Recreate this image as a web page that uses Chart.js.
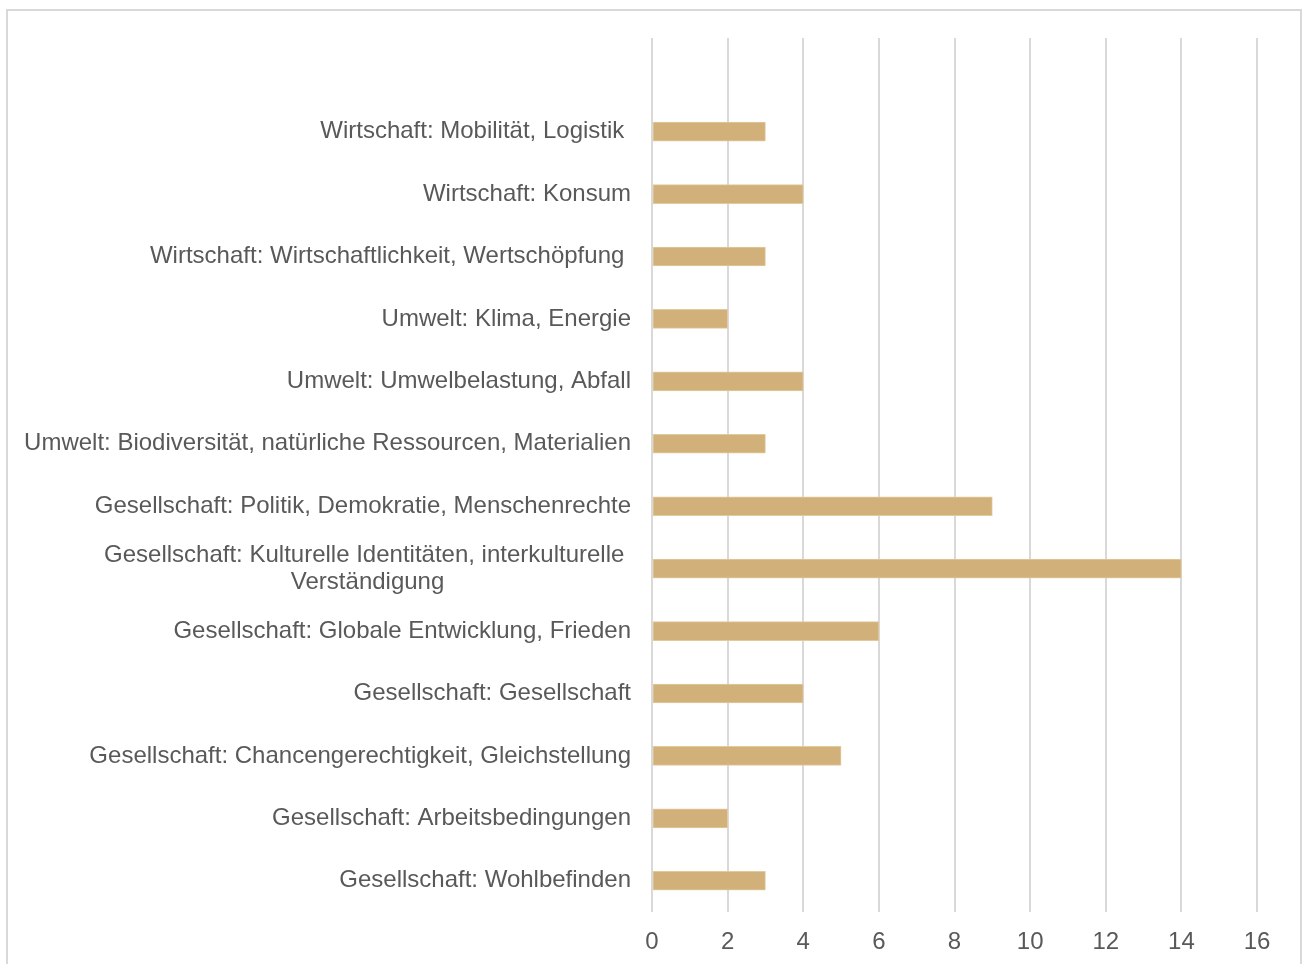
<!DOCTYPE html>
<html>
<head>
<meta charset="utf-8">
<script src="https://cdn.jsdelivr.net/npm/chart.js@4/dist/chart.umd.min.js"></script>
<style>
  html, body { margin: 0; padding: 0; background: #fff; }
  #wrap { position: relative; width: 1304px; height: 964px; }
  #frame { position: absolute; left: 6px; top: 9px; width: 1296px; height: 970px; border: 2px solid #d9d9d9; box-sizing: border-box; }
  canvas { position: absolute; left: 0; top: 0; }
</style>
</head>
<body>
<div id="wrap">
  <div id="frame"></div>
  <canvas id="barChart" width="1304" height="964"></canvas>
</div>
<script>
// categories top to bottom (first one is the empty slot above the bars)
var categories = [
    "",
    "Wirtschaft: Mobilität, Logistik ",
    "Wirtschaft: Konsum",
    "Wirtschaft: Wirtschaftlichkeit, Wertschöpfung ",
    "Umwelt: Klima, Energie",
    "Umwelt: Umwelbelastung, Abfall",
    "Umwelt: Biodiversität, natürliche Ressourcen, Materialien",
    "Gesellschaft: Politik, Demokratie, Menschenrechte",
    ["Gesellschaft: Kulturelle Identitäten, interkulturelle ", "Verständigung"],
    "Gesellschaft: Globale Entwicklung, Frieden",
    "Gesellschaft: Gesellschaft",
    "Gesellschaft: Chancengerechtigkeit, Gleichstellung",
    "Gesellschaft: Arbeitsbedingungen",
    "Gesellschaft: Wohlbefinden"
];
var counts = [null, 3, 4, 3, 2, 4, 3, 9, 14, 6, 4, 5, 2, 3];
var xTicks = [0, 2, 4, 6, 8, 10, 12, 14, 16];

var textColor = "#595959";
var labelFont = { family: "'Liberation Sans', Arial, sans-serif", size: 24, lineHeight: 1.13 };

// the second line of a wrapped label is centred under the first one
function padLine(lines) {
    var ctx = document.createElement("canvas").getContext("2d");
    ctx.font = labelFont.size + "px " + labelFont.family;
    var w0 = ctx.measureText(lines[0]).width;
    var sp = ctx.measureText(" ").width;
    var out = [lines[0]];
    for (var i = 1; i < lines.length; i++) {
        var w = ctx.measureText(lines[i]).width;
        var n = Math.round((w0 - w) / 2 / sp);
        out.push(lines[i] + " ".repeat(Math.max(0, n)));
    }
    return out;
}

function createChart() {
    var chart = document.getElementById("barChart");
    let myChart = new Chart(chart, {
        type: 'bar',
        data: {
            labels: categories,
            datasets: [{
                label: 'Anzahl',
                backgroundColor: "#D1B07A",
                borderColor: "#E2CA9F",
                borderWidth: 1,
                borderSkipped: false,
                barThickness: 19,
                data: counts
            }]
        },
        options: {
            indexAxis: 'y',
            responsive: false,
            animation: false,
            layout: { padding: { left: 0, right: 47, top: 38, bottom: 0 } },
            plugins: {
                legend: { display: false },
                tooltip: { enabled: false }
            },
            scales: {
                x: {
                    min: 0,
                    max: 16,
                    afterBuildTicks: function (axis) {
                        axis.ticks = xTicks.map(function (v) { return { value: v }; });
                    },
                    afterFit: function (axis) { axis.height = 52; },
                    grid: { color: "#d9d9d9", lineWidth: 2, drawTicks: false },
                    border: { display: false },
                    ticks: { color: textColor, font: labelFont, padding: 17 }
                },
                y: {
                    afterFit: function (axis) { axis.width = 652; },
                    grid: { display: false, drawTicks: false },
                    border: { display: false },
                    ticks: {
                        color: textColor,
                        font: labelFont,
                        padding: 21,
                        autoSkip: false,
                        callback: function (value, index) {
                            var l = categories[index];
                            return Array.isArray(l) ? padLine(l) : l;
                        }
                    }
                }
            }
        }
    });
}

createChart();
</script>
</body>
</html>
